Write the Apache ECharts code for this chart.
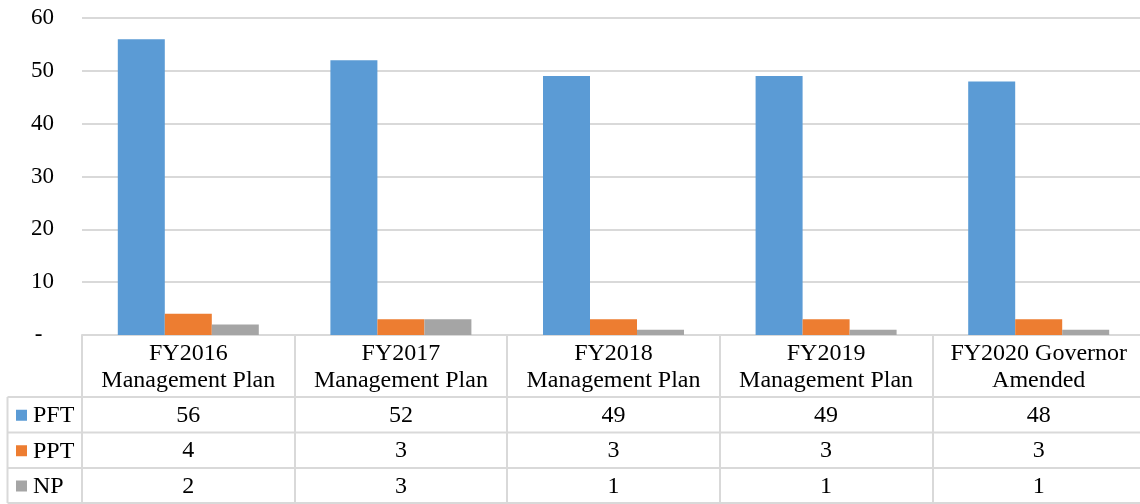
<!DOCTYPE html>
<html>
<head>
<meta charset="utf-8">
<script src="https://cdn.jsdelivr.net/npm/echarts@6/dist/echarts.min.js"></script>
<style>
  html, body { margin: 0; padding: 0; background: #fff; }
  #chart { width: 1140px; height: 504px; }
</style>
</head>
<body>
<div id="chart"></div>
<script>
  // chart data
  const categories = [
    'FY2016\nManagement Plan',
    'FY2017\nManagement Plan',
    'FY2018\nManagement Plan',
    'FY2019\nManagement Plan',
    'FY2020 Governor\nAmended'
  ];
  const seriesNames = ['PFT', 'PPT', 'NP'];
  const pft = [56, 52, 49, 49, 48];
  const ppt = [4, 3, 3, 3, 3];
  const np = [2, 3, 1, 1, 1];
  const yTicks = [0, 10, 20, 30, 40, 50, 60];

  const rows = [pft, ppt, np];
  const colors = ['#5b9bd5', '#ed7d31', '#a5a5a5'];
  const font = 'Liberation Serif';
  const lineColor = '#d9d9d9';

  // table geometry (px)
  const gridLeft = 82, gridTop = 18, gridBottomY = 335, gridWidth = 1063;
  const rowLines = [397, 432.5, 468, 503];
  const tableLeft = 7.5;

  const chart = echarts.init(document.getElementById('chart'));

  // value rows under the header are extra category axes with offsets
  const rowOffsets = [62, 97, 133];
  const rowAxes = rows.map((vals, r) => ({
    type: 'category',
    data: categories,
    position: 'bottom',
    offset: rowOffsets[r],
    axisLine: { show: false },
    axisTick: { show: false },
    axisLabel: {
      interval: 0,
      margin: 7,
      color: '#000',
      fontFamily: font,
      fontSize: 24,
      formatter: (v, i) => String(vals[i])
    }
  }));

  const graphics = [];
  rowLines.forEach(y => {
    graphics.push({
      type: 'line',
      shape: { x1: tableLeft, y1: y, x2: gridLeft + gridWidth, y2: y },
      style: { stroke: lineColor, lineWidth: 2 }
    });
  });
  graphics.push({
    type: 'line',
    shape: { x1: tableLeft, y1: rowLines[0], x2: tableLeft, y2: rowLines[3] },
    style: { stroke: lineColor, lineWidth: 2 }
  });
  seriesNames.forEach((name, r) => {
    const cy = (rowLines[r] + rowLines[r + 1]) / 2;
    graphics.push({
      type: 'rect',
      shape: { x: 16, y: cy - 5, width: 11, height: 11 },
      style: { fill: colors[r] }
    });
    graphics.push({
      type: 'text',
      x: 33,
      y: cy + 1,
      style: {
        text: name,
        fill: '#000',
        fontFamily: font,
        fontSize: 24,
        verticalAlign: 'middle',
        align: 'left'
      }
    });
  });

  chart.setOption({
    animation: false,
    color: colors,
    grid: {
      left: gridLeft,
      top: gridTop,
      width: gridWidth,
      height: gridBottomY - gridTop,
      containLabel: false,
      outerBoundsMode: 'none'
    },
    xAxis: [{
      type: 'category',
      data: categories,
      axisLine: { lineStyle: { color: lineColor, width: 2 } },
      axisTick: {
        show: true,
        interval: 0,
        alignWithLabel: false,
        length: rowLines[3] - gridBottomY,
        lineStyle: { color: lineColor, width: 2 }
      },
      axisLabel: {
        interval: 0,
        margin: 5,
        color: '#000',
        fontFamily: font,
        fontSize: 24,
        lineHeight: 27
      }
    }].concat(rowAxes),
    yAxis: {
      type: 'value',
      min: yTicks[0],
      max: yTicks[yTicks.length - 1],
      interval: 10,
      axisLine: { show: false },
      axisTick: { show: false },
      splitLine: { lineStyle: { color: lineColor, width: 2 } },
      axisLabel: {
        margin: 28,
        color: '#000',
        fontFamily: font,
        fontSize: 23,
        formatter: v => (v === 0 ? '-  ' : String(v))
      }
    },
    series: seriesNames.map((name, r) => ({
      name: name,
      type: 'bar',
      data: rows[r],
      barWidth: 47,
      barGap: '0%',
      itemStyle: { color: colors[r] }
    })),
    graphic: graphics
  });
</script>
</body>
</html>
